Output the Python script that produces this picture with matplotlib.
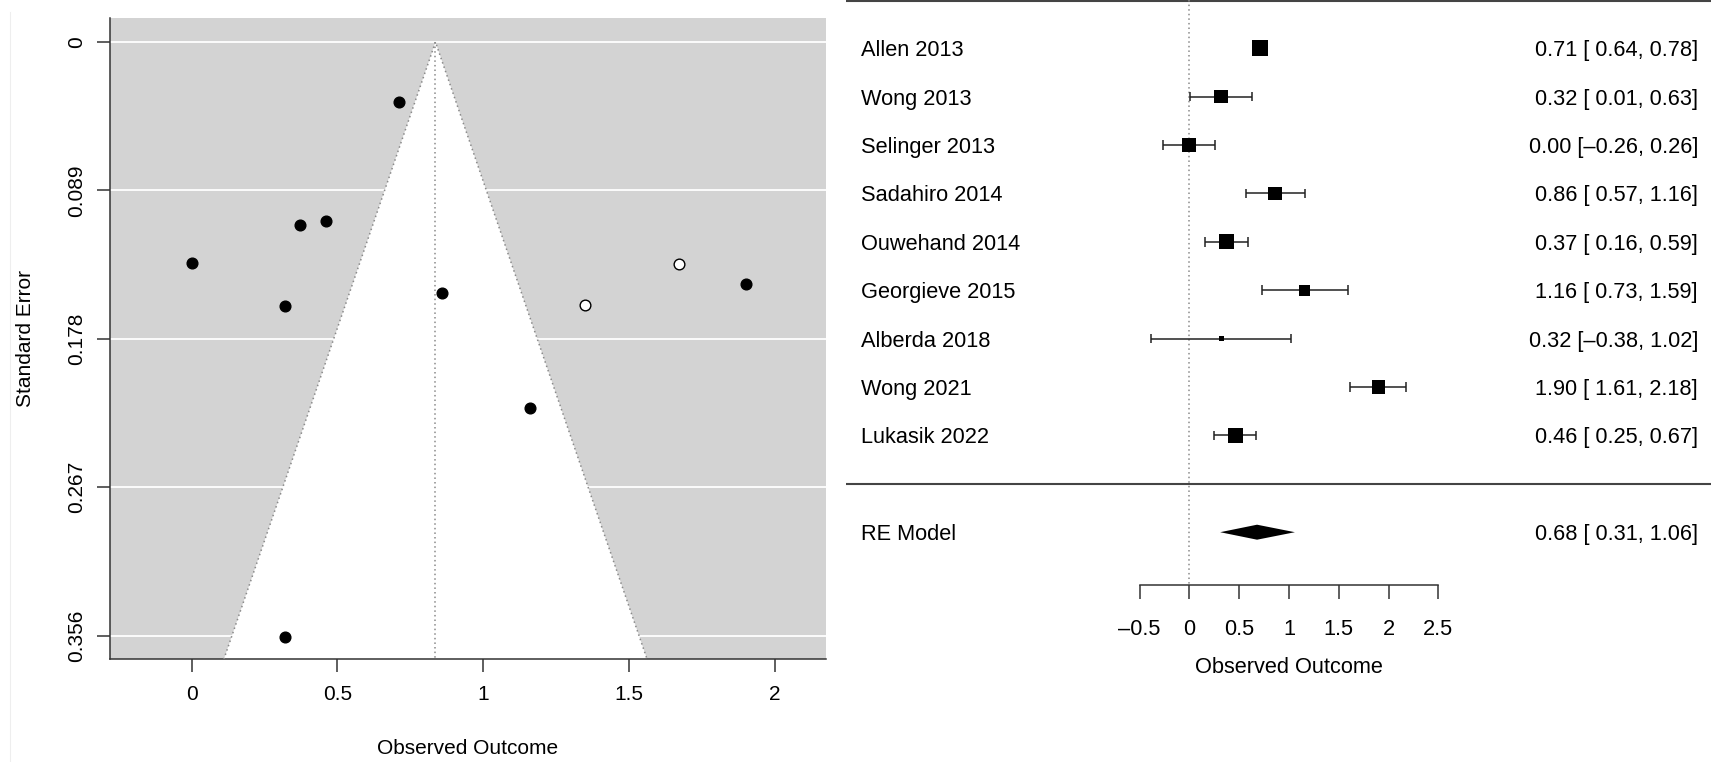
import numpy as np
import matplotlib.pyplot as plt
from matplotlib.lines import Line2D

plt.rcParams['font.family'] = ['Liberation Sans', 'DejaVu Sans']

# study results (estimate and 95% CI) as printed in the forest plot
studies = ['Allen 2013', 'Wong 2013', 'Selinger 2013', 'Sadahiro 2014', 'Ouwehand 2014',
           'Georgieve 2015', 'Alberda 2018', 'Wong 2021', 'Lukasik 2022']
yi = np.array([0.71, 0.32, 0.00, 0.86, 0.37, 1.16, 0.32, 1.90, 0.46])
ci_lb = np.array([0.64, 0.01, -0.26, 0.57, 0.16, 0.73, -0.38, 1.61, 0.25])
ci_ub = np.array([0.78, 0.63, 0.26, 1.16, 0.59, 1.59, 1.02, 2.18, 0.67])

re_est, re_lb, re_ub = 0.68, 0.31, 1.06

# trim and fill (funnel plot)
funnel_center = 0.836
filled_yi = [1.35, 1.67]
filled_sei = [0.158, 0.133]

se_ticks = [0, 0.089, 0.178, 0.267, 0.356]
funnel_xticks = [0, 0.5, 1, 1.5, 2]
forest_xticks = [-0.5, 0, 0.5, 1, 1.5, 2, 2.5]

sei = (ci_ub - ci_lb) / (2 * 1.96)
vi = sei ** 2

# REML tau^2, weights for square sizes (like metafor)
tau2 = 0.0
for _ in range(500):
    w = 1 / (vi + tau2)
    mu = np.sum(w * yi) / np.sum(w)
    tau2 = max(0.0, np.sum(w ** 2 * ((yi - mu) ** 2 - vi)) / np.sum(w ** 2) + 1 / np.sum(w))
w = 1 / (vi + tau2)
psize = 0.5 + (w - w.min()) / (w.max() - w.min())


def col(vals):
    neg = any(v < 0 for v in vals)
    out = []
    for v in vals:
        s = '{:.2f}'.format(abs(v))
        if v < 0:
            s = '\u2013' + s
        elif neg:
            s = ' ' + s
        out.append(s)
    return out


W, H = 1711, 762
fig = plt.figure(figsize=(W / 100, H / 100), dpi=100)
fig.add_artist(Line2D([9.5 / W, 9.5 / W], [0, 1 - 12 / H], color='#eeeeee', lw=0.8))

# ---------------- funnel plot ----------------
ax1 = fig.add_axes([110 / W, 1 - 659.3 / H, 716 / W, 641 / H])
ax1.set_facecolor('#d3d3d3')
ax1.set_xlim(-0.28, 2.175)
ylo = -0.04 * se_ticks[-1]
yhi = 1.04 * se_ticks[-1]
ax1.set_ylim(yhi, ylo)

for t in se_ticks:
    ax1.axhline(t, color='white', lw=1.3, zorder=1)

c = funnel_center
fx = [c - 1.96 * yhi, c, c + 1.96 * yhi]
fy = [yhi, 0, yhi]
ax1.fill(fx, fy, color='white', zorder=2, lw=0)
ax1.plot(fx, fy, ls=(0, (1, 2)), color='#8a8a8a', lw=1.1, zorder=3)
ax1.plot([c, c], [0, yhi], ls=(0, (1, 2)), color='#8a8a8a', lw=1.1, zorder=3)

ax1.plot(yi, sei, 'o', color='black', ms=7.7, zorder=4, clip_on=False)
ax1.plot(filled_yi, filled_sei, 'o', mfc='white', mec='black', mew=1, ms=7.7, zorder=4)

for s in ['top', 'right']:
    ax1.spines[s].set_visible(False)
for s in ['left', 'bottom']:
    ax1.spines[s].set_color('#333333')
    ax1.spines[s].set_linewidth(1.1)

ax1.set_xticks(funnel_xticks, labels=['{:g}'.format(t) for t in funnel_xticks])
ax1.set_yticks(se_ticks, labels=['{:g}'.format(t) for t in se_ticks])
ax1.tick_params(axis='both', length=9.4, width=1.1, color='#333333', labelsize=15)
ax1.tick_params(axis='x', pad=9)
ax1.tick_params(axis='y', labelrotation=90, pad=8)
for lab in ax1.get_yticklabels():
    lab.set_va('center')

ax1.set_xlabel('Observed Outcome', fontsize=15, va='center')
ax1.xaxis.set_label_coords(0.5, (659.3 - 748) / 641)
ax1.set_ylabel('Standard Error', fontsize=15, va='center')
ax1.yaxis.set_label_coords((25 - 110) / 716, 0.5)

# ---------------- forest plot ----------------
ax2 = fig.add_axes([846 / W, 0, 1 - 846 / W, 1])
ax2.axis('off')
ax2.set_xlim(-3.447, 5.238)
ax2.set_ylim(15.748, 0.0041)

k = len(studies)
rows = np.arange(1, k + 1)
fs = 15.7

ax2.axhline(0.03, color='#444444', lw=1.5)
ax2.axhline(k + 1, color='#444444', lw=1.5)
ax2.plot([0, 0], [0, k + 3.1], ls=(0, (1, 2)), color='#8a8a8a', lw=1.1)

ax2.hlines(rows, ci_lb, ci_ub, color='#222222', lw=1.1)
ax2.vlines(ci_lb, rows - 0.1, rows + 0.1, color='#222222', lw=1.1)
ax2.vlines(ci_ub, rows - 0.1, rows + 0.1, color='#222222', lw=1.1)
ax2.scatter(yi, rows, s=(10.7 * psize * 0.72) ** 2, marker='s', color='black', zorder=3, lw=0)

ax2.fill([re_lb, re_est, re_ub, re_est], [k + 2, k + 2 - 0.155, k + 2, k + 2 + 0.155],
         color='black', lw=0)

ax2.plot([forest_xticks[0], forest_xticks[-1]], [k + 3.1, k + 3.1], color='#333333', lw=1.1)
ax2.vlines(forest_xticks, k + 3.1, k + 3.37, color='#333333', lw=1.1)
for t in forest_xticks:
    ax2.text(t, k + 3.95, '{:g}'.format(t).replace('-', '\u2013'), ha='center',
             va='center_baseline', fontsize=fs)
ax2.text(np.mean([forest_xticks[0], forest_xticks[-1]]), k + 4.75, 'Observed Outcome',
         ha='center', va='center_baseline', fontsize=fs)

# annotation columns are formatted together (study rows + RE model row)
est_s = col(list(yi) + [re_est])
lb_s = col(list(ci_lb) + [re_lb])
ub_s = col(list(ci_ub) + [re_ub])
labels = studies + ['RE Model']
ypos = list(rows) + [k + 2]
for r, name, e, lo, hi in zip(ypos, labels, est_s, lb_s, ub_s):
    ax2.text(-3.296, r, name, ha='left', va='center_baseline', fontsize=fs)
    ax2.text(5.107, r, '{} [{}, {}]'.format(e, lo, hi), ha='right', va='center_baseline', fontsize=fs)

fig.savefig('out.png', dpi=100)
